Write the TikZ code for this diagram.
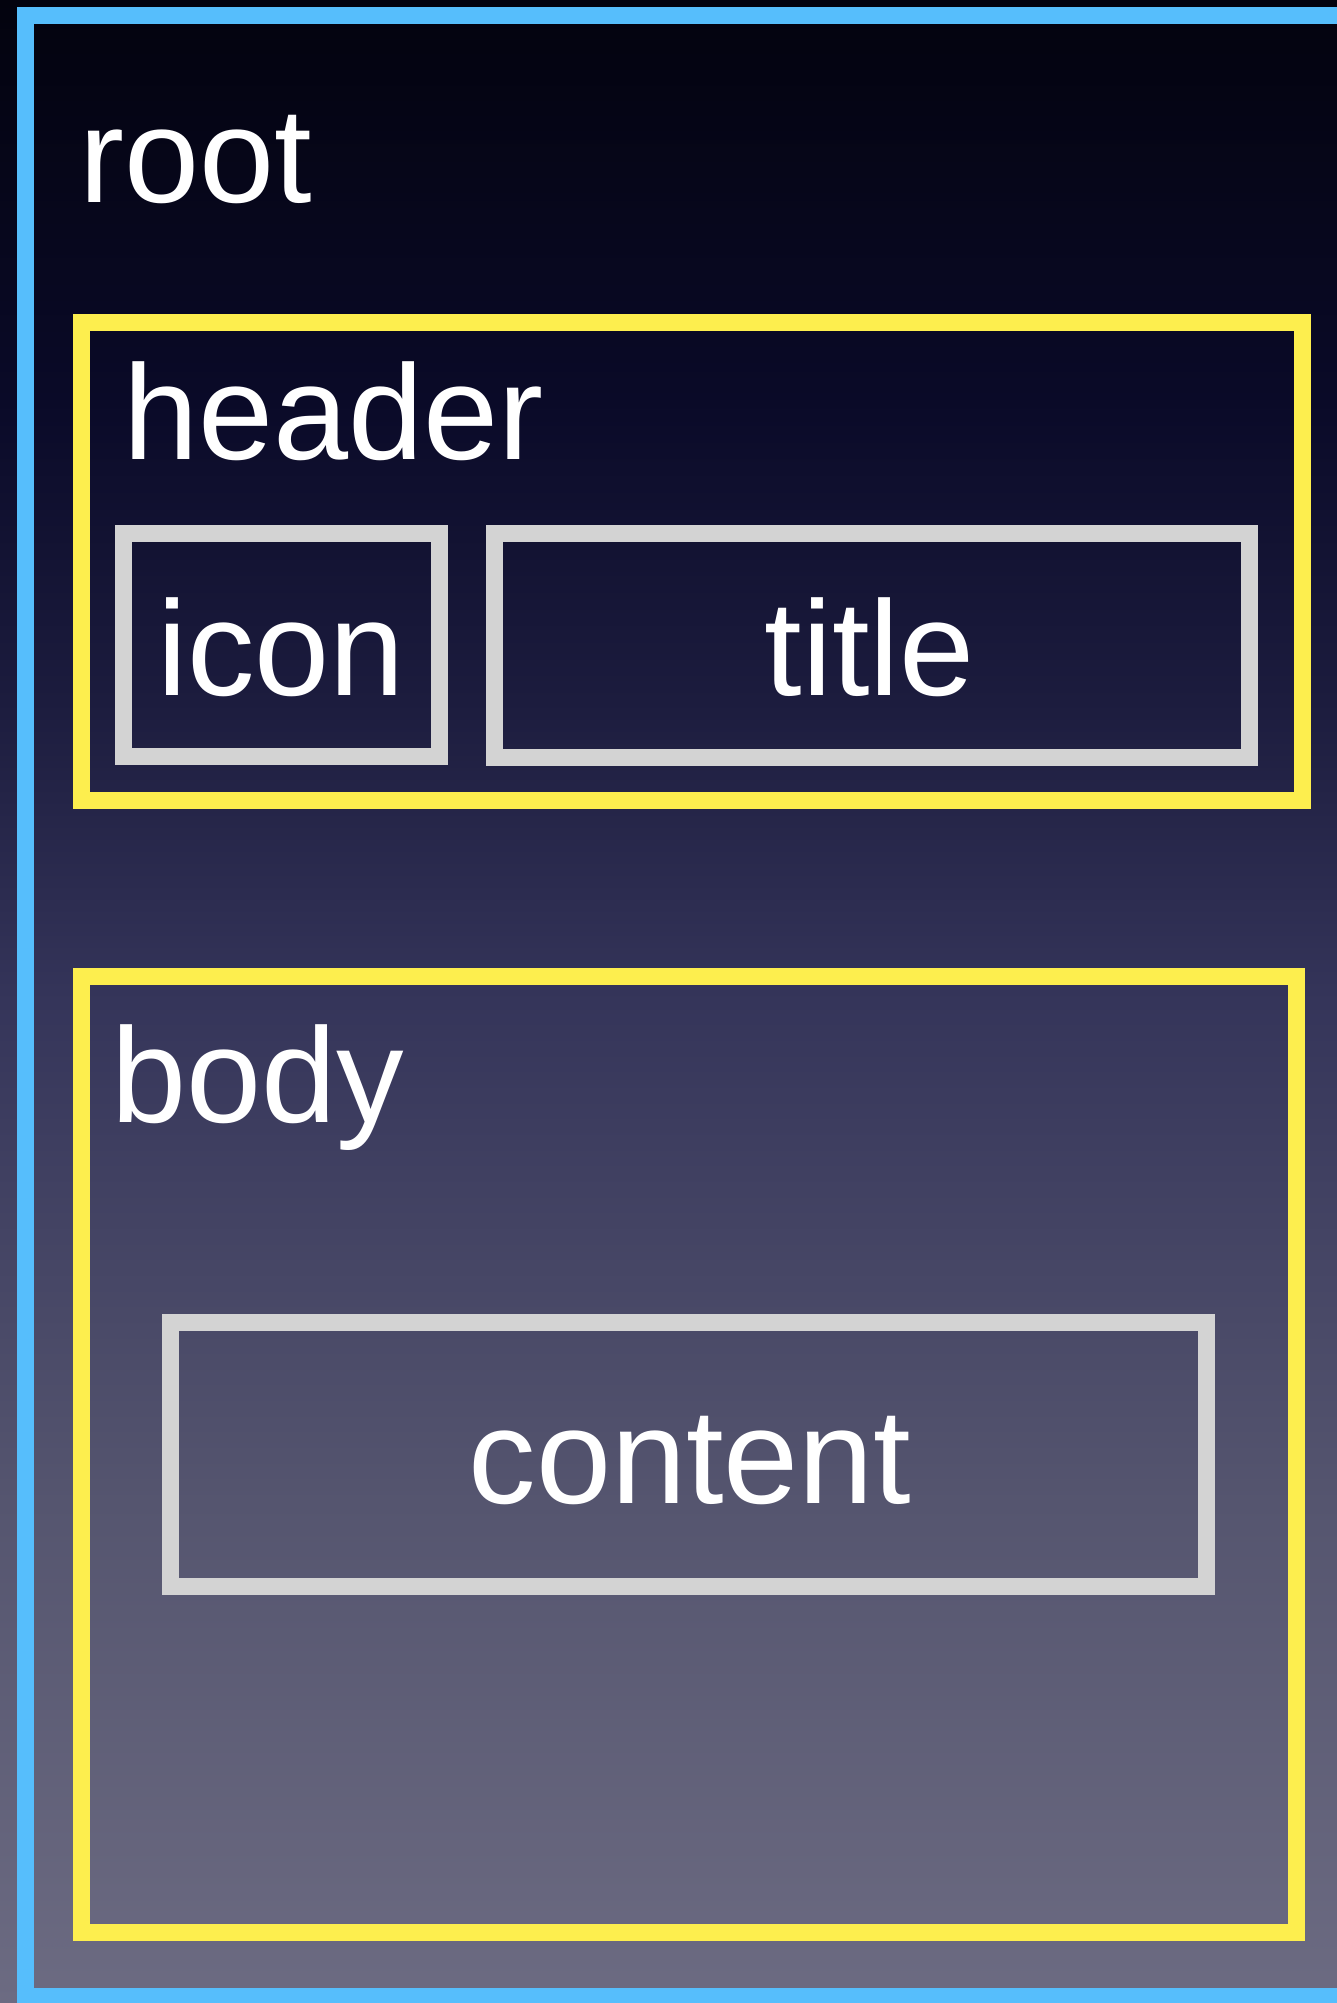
\documentclass[tikz,border=0pt]{standalone}
\usepackage{fontspec}
\setmainfont{Liberation Sans}
\definecolor{rootblue}{HTML}{56BEFC}
\definecolor{areayellow}{HTML}{FDEE4E}
\definecolor{itemgrey}{HTML}{D3D3D3}
\definecolor{bgtop}{HTML}{03030E}
\definecolor{bghigh}{HTML}{0A0A28}
\definecolor{bgupper}{HTML}{1C1C3E}
\definecolor{bgmid}{HTML}{35355A}
\definecolor{bglow}{HTML}{55556F}
\definecolor{bgbot}{HTML}{6C6B82}
\pgfdeclareverticalshading{rootbg}{100bp}{color(0bp)=(bgbot); color(25bp)=(bgbot);
  color(37.5bp)=(bglow); color(50bp)=(bgmid); color(57.5bp)=(bgupper);
  color(65bp)=(bghigh); color(75bp)=(bgtop); color(100bp)=(bgtop)}
\tikzset{
  rootbox/.style={draw=rootblue, line width=17pt},
  areabox/.style={draw=areayellow, line width=17pt},
  itembox/.style={draw=itemgrey, line width=17pt},
  boxlabel/.style={text=white, inner sep=0pt, font=\fontsize{135}{160}\selectfont}
}
\begin{document}
\begin{tikzpicture}[x=1pt, y=-1pt]
   \useasboundingbox (0,0) rectangle (1337,2003);
   \clip (0,0) rectangle (1337,2003);
   \shade[shading=rootbg] (0,0) rectangle (1337,2003);
   % root
   \draw[rootbox] (25,15) rectangle (1380,1996);
   \node[boxlabel, anchor=base west] (root) at (79,202) {root};
   % header
   \draw[areabox] (81,322) rectangle (1302,800);
   \node[boxlabel, anchor=base west] (header) at (123,459) {header};
   \draw[itembox] (123,533) rectangle (439,756);
   \node[boxlabel, anchor=base] (icon) at (281,695) {icon};
   \draw[itembox] (494,533) rectangle (1249,757);
   \node[boxlabel, anchor=base] (title) at (870,695) {title};
   % body
   \draw[areabox] (81,976) rectangle (1296,1932);
   \node[boxlabel, anchor=base west] (body) at (111,1122) {body};
   \draw[itembox] (170,1322) rectangle (1206,1586);
   \node[boxlabel, anchor=base] (content) at (690,1503) {content};
\end{tikzpicture}
\end{document}
